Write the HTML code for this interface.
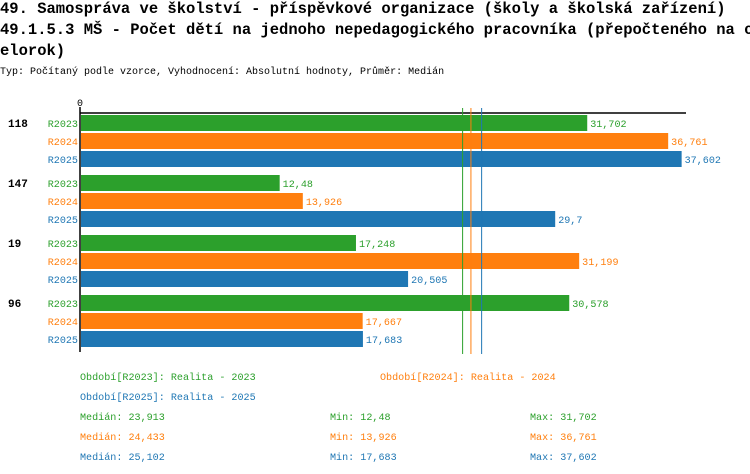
<!DOCTYPE html>
<html><head><meta charset="utf-8"><style>
body{margin:0;background:#fff;width:750px;height:474px;overflow:hidden;font-family:"Liberation Mono","DejaVu Sans Mono",monospace}
.t{position:absolute;left:0;font-weight:bold;font-size:15.5px;white-space:nowrap}
</style></head><body>
<div class="t" style="top:0px">49. Samospráva ve školství - příspěvkové organizace (školy a školská zařízení)</div>
<div class="t" style="top:21px">49.1.5.3 MŠ - Počet dětí na jednoho nepedagogického pracovníka (přepočteného na c</div>
<div class="t" style="top:42px">elorok)</div>
<div style="position:absolute;left:0;top:67px;font-size:10px;white-space:nowrap">Typ: Počítaný podle vzorce, Vyhodnocení: Absolutní hodnoty, Průměr: Medián</div>
<svg id="c" width="750" height="474" style="position:absolute;left:0;top:0"></svg>
<script>
const categories=["118","147","19","96"];
const seriesNames=["R2023","R2024","R2025"];
const r2023=[31.702,12.48,17.248,30.578];
const r2024=[36.761,13.926,31.199,17.667];
const r2025=[37.602,29.7,20.505,17.683];
const medians=[23.913,24.433,25.102];
const mins=[12.48,13.926,17.683];
const maxs=[31.702,36.761,37.602];
const colors=["#2ca02c","#ff7f0e","#1f77b4"];
const svg=document.getElementById('c');const NS="http://www.w3.org/2000/svg";
const x0=80,scale=16.0;
const X=v=>x0+v*scale;
const fmt=v=>String(v).replace('.',',');
const FS=10.1;
function el(t,a,txt){const e=document.createElementNS(NS,t);for(const k in a)e.setAttribute(k,a[k]);if(txt!==undefined)e.textContent=txt;svg.appendChild(e);return e;}
const series=[r2023,r2024,r2025];
let a=el('line',{x1:x0,y1:113,x2:686,y2:113,stroke:'#000','stroke-width':1.5});


a=el('line',{x1:x0,y1:107,x2:x0,y2:352,stroke:'#000','stroke-width':1.5});


a=el('text',{x:x0,y:106,'font-size':10,'text-anchor':'middle','font-family':'Liberation Mono, monospace'},'0');


categories.forEach((c,i)=>{
 const gy=115+i*60;
 let t=el('text',{x:8,y:gy+12,'font-size':11,'font-weight':'bold','font-family':'Liberation Mono, monospace'},c);
 
 
 series.forEach((s,j)=>{
  const y=gy+j*18;
  let l=el('text',{x:78,y:y+12,'font-size':FS,'text-anchor':'end',fill:colors[j],'font-family':'Liberation Mono, monospace'},seriesNames[j]);
  
  
  let r=el('rect',{x:x0+1,y:y,width:X(s[i])-x0-1,height:16,fill:colors[j]});
  
  
  let v=el('text',{x:X(s[i])+3,y:y+12,'font-size':FS,fill:colors[j],'font-family':'Liberation Mono, monospace'},fmt(s[i]));
  
  
 });
});
medians.forEach((m,j)=>{
 let l=el('line',{x1:X(m),y1:108,x2:X(m),y2:354,stroke:colors[j],'stroke-width':1});
 
 
});
const legend=[[80,380,"Období[R2023]: Realita - 2023",0],[380,380,"Období[R2024]: Realita - 2024",1],[80,400,"Období[R2025]: Realita - 2025",2]];
legend.forEach(L=>{
 let t=el('text',{x:L[0],y:L[1],'font-size':FS,fill:colors[L[3]],'font-family':'Liberation Mono, monospace'},L[2]);
 
 
});
for(let j=0;j<3;j++){
 const y=420+j*20;
 let t=el('text',{x:80,y:y,'font-size':FS,fill:colors[j],'font-family':'Liberation Mono, monospace'},'Medián: '+fmt(medians[j]));
 
 
 t=el('text',{x:330,y:y,'font-size':FS,fill:colors[j],'font-family':'Liberation Mono, monospace'},'Min: '+fmt(mins[j]));
 
 
 t=el('text',{x:530,y:y,'font-size':FS,fill:colors[j],'font-family':'Liberation Mono, monospace'},'Max: '+fmt(maxs[j]));
 
 
}
</script>
</body></html>
